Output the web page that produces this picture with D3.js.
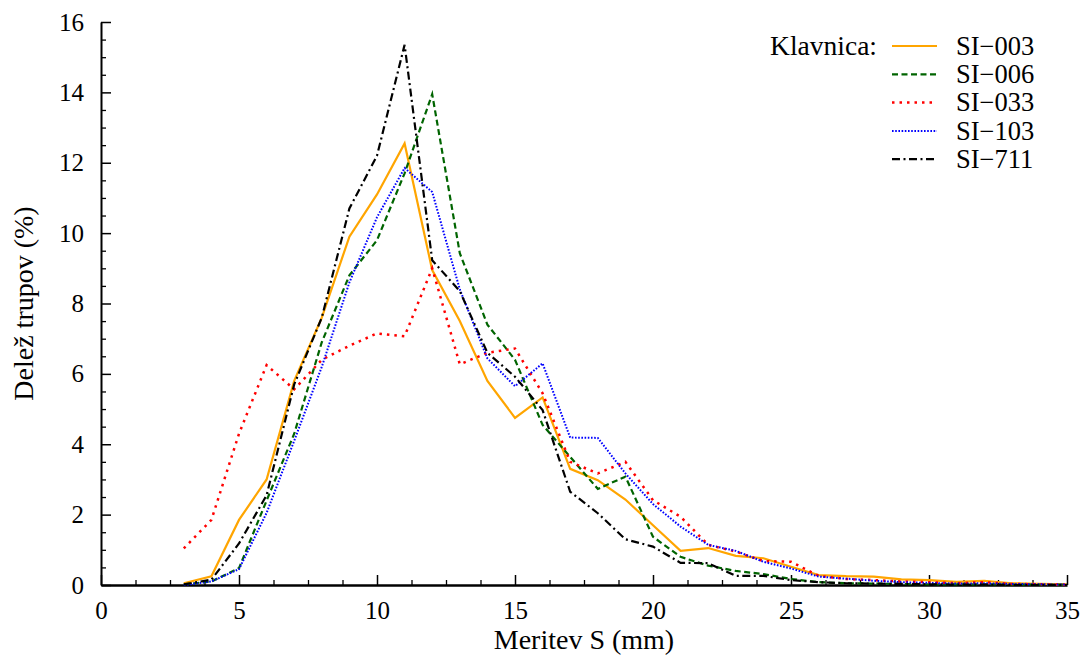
<!DOCTYPE html>
<html>
<head>
<meta charset="utf-8">
<script src="https://cdn.jsdelivr.net/npm/d3@7"></script>
<style>
  body { margin: 0; background: #fff; }
  text { font-family: "Liberation Serif", "Times New Roman", serif; fill: #000; }
</style>
</head>
<body>
<svg id="chart"></svg>
<script>
// x values (mm)
const meritev = [3, 4, 5, 6, 7, 8, 9, 10, 11, 12, 13, 14, 15, 16, 17, 18, 19,
  20, 21, 22, 23, 24, 25, 26, 27, 28, 29, 30, 31, 32, 33, 34, 35];

// share of carcasses (%) per slaughterhouse
const si003 = [0.05, 0.25, 1.85, 3.0, 5.8, 7.6, 9.9, 11.1, 12.55, 8.95, 7.5, 5.8, 4.75, 5.33, 3.3, 2.98, 2.43,
  1.7, 0.97, 1.05, 0.83, 0.76, 0.52, 0.28, 0.25, 0.24, 0.16, 0.14, 0.09, 0.12, 0.05, 0.03, 0.02];
const si006 = [0.02, 0.1, 0.48, 2.4, 4.3, 6.9, 8.8, 9.8, 11.7, 13.95, 9.43, 7.4, 6.4, 4.55, 3.64, 2.73, 3.08,
  1.37, 0.8, 0.55, 0.4, 0.31, 0.17, 0.08, 0.05, 0.04, 0.03, 0.02, 0.02, 0.02, 0.01, 0.01, 0.01];
const si033 = [1.04, 1.85, 4.3, 6.25, 5.56, 6.4, 6.8, 7.15, 7.07, 9.0, 6.27, 6.6, 6.72, 5.45, 3.5, 3.17, 3.5,
  2.41, 1.94, 1.14, 0.95, 0.68, 0.66, 0.26, 0.17, 0.14, 0.1, 0.08, 0.05, 0.08, 0.03, 0.02, 0.01];
const si103 = [0.0, 0.1, 0.45, 2.05, 4.1, 6.2, 8.6, 10.45, 11.85, 11.17, 8.4, 6.44, 5.65, 6.3, 4.19, 4.18, 3.17,
  2.3, 1.66, 1.14, 0.97, 0.66, 0.47, 0.24, 0.18, 0.12, 0.08, 0.06, 0.04, 0.05, 0.03, 0.02, 0.01];
const si711 = [0.02, 0.15, 1.18, 2.55, 5.7, 7.6, 10.7, 12.2, 15.35, 9.23, 8.35, 6.6, 5.92, 4.97, 2.65, 2.04, 1.3,
  1.09, 0.63, 0.62, 0.26, 0.26, 0.14, 0.08, 0.05, 0.04, 0.03, 0.02, 0.01, 0.01, 0.0, 0.0, 0.0];

const seriesNames = ['SI\u2212003', 'SI\u2212006', 'SI\u2212033', 'SI\u2212103', 'SI\u2212711'];
const seriesValues = [si003, si006, si033, si103, si711];

const xTicks = [0, 5, 10, 15, 20, 25, 30, 35];
const yTicks = [0, 2, 4, 6, 8, 10, 12, 14, 16];

const styles = [
  { color: '#ffa500', dash: null, width: 2.2 },
  { color: '#006400', dash: '6,3.5', width: 2.2 },
  { color: '#ff0000', dash: '2.5,5', width: 2.5 },
  { color: '#0000ff', dash: '1.6,1.6', width: 2 },
  { color: '#000000', dash: '8,3.5,2,3.5', width: 2.2 }
];

const width = 1091, height = 655;
const margin = { top: 22, right: 24, bottom: 70, left: 101 };
const innerW = width - margin.left - margin.right;
const innerH = height - margin.top - margin.bottom;

const svg = d3.select('#chart').attr('width', width).attr('height', height);
const g = svg.append('g').attr('transform', `translate(${margin.left},${margin.top})`);

const x = d3.scaleLinear().domain([0, 35]).range([0, innerW]);
const y = d3.scaleLinear().domain([0, 16]).range([innerH, 0]);

// minor ticks (inward)
const xMinor = d3.range(0, 35.001, 1.25).filter(v => v % 5 !== 0);
const yMinor = d3.range(0, 16.001, 0.5).filter(v => v % 2 !== 0);

g.append('g').attr('class', 'x-minor')
  .attr('transform', `translate(0,${innerH})`)
  .call(d3.axisBottom(x).tickValues(xMinor).tickSize(-5).tickFormat(''))
  .call(s => s.select('.domain').remove())
  .selectAll('line').attr('stroke-width', 1.3);

g.append('g').attr('class', 'y-minor')
  .call(d3.axisLeft(y).tickValues(yMinor).tickSize(-5).tickFormat(''))
  .call(s => s.select('.domain').remove())
  .selectAll('line').attr('stroke-width', 1.3);

// major axes
const xAxis = g.append('g')
  .attr('transform', `translate(0,${innerH})`)
  .call(d3.axisBottom(x).tickValues(xTicks).tickSize(-10).tickPadding(16).tickSizeOuter(0));
xAxis.attr('font-family', null);
xAxis.select('.domain').attr('stroke-width', 2.5);
xAxis.selectAll('line').attr('stroke-width', 1.5);
xAxis.selectAll('text').attr('font-size', 25).attr('dy', '0.71em');

const yAxis = g.append('g')
  .call(d3.axisLeft(y).tickValues(yTicks).tickSize(-10).tickPadding(17).tickSizeOuter(0));
yAxis.attr('font-family', null);
yAxis.select('.domain').attr('stroke-width', 2);
yAxis.selectAll('line').attr('stroke-width', 1.5);
yAxis.selectAll('text').attr('font-size', 25);

// lines
const line = d3.line()
  .x((d, i) => x(meritev[i]))
  .y(d => y(d));

seriesValues.forEach((vals, k) => {
  g.append('path')
    .datum(vals)
    .attr('fill', 'none')
    .attr('stroke', styles[k].color)
    .attr('stroke-width', styles[k].width)
    .attr('stroke-dasharray', styles[k].dash)
    .attr('stroke-linejoin', 'miter')
    .attr('d', line);
});

// axis titles
svg.append('text')
  .attr('x', margin.left + innerW / 2)
  .attr('y', 649)
  .attr('text-anchor', 'middle')
  .attr('font-size', 28)
  .text('Meritev S (mm)');

svg.append('text')
  .attr('transform', `translate(33,${margin.top + innerH / 2}) rotate(-90)`)
  .attr('text-anchor', 'middle')
  .attr('font-size', 28)
  .text('Delež trupov (%)');

// legend
const legend = svg.append('g').attr('transform', 'translate(0,46)');
legend.append('text')
  .attr('x', 877).attr('y', 0).attr('dy', '0.33em')
  .attr('text-anchor', 'end')
  .attr('font-size', 27.5)
  .text('Klavnica:');

seriesNames.forEach((name, k) => {
  const row = legend.append('g').attr('transform', `translate(0,${k * 28.3})`);
  row.append('line')
    .attr('x1', 892).attr('x2', 937)
    .attr('y1', 0).attr('y2', 0)
    .attr('stroke', styles[k].color)
    .attr('stroke-width', styles[k].width)
    .attr('stroke-dasharray', styles[k].dash);
  row.append('text')
    .attr('x', 956).attr('y', 0).attr('dy', '0.33em')
    .attr('font-size', 26.5)
    .text(name);
});
</script>
</body>
</html>
